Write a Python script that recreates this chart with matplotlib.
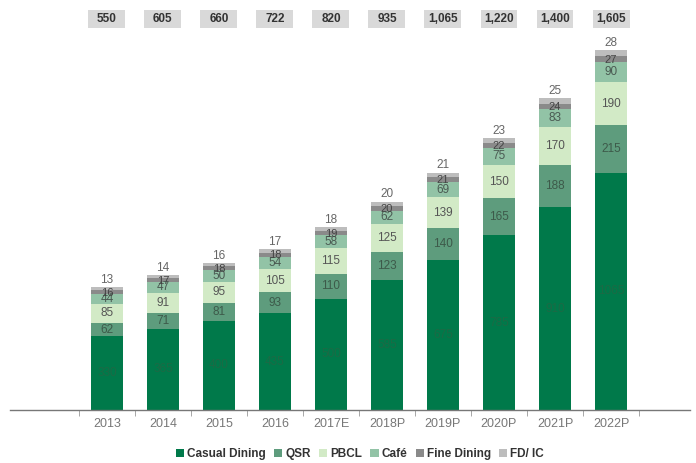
import numpy as np
import matplotlib.pyplot as plt
from matplotlib.patches import Rectangle
from matplotlib.transforms import blended_transform_factory

plt.rcParams['font.family'] = ['Liberation Sans', 'DejaVu Sans']

years = ['2013', '2014', '2015', '2016', '2017E', '2018P', '2019P', '2020P', '2021P', '2022P']
totals = ['550', '605', '660', '722', '820', '935', '1,065', '1,220', '1,400', '1,605']

casual_dining = [330, 365, 400, 435, 500, 585, 675, 785, 910, 1065]
qsr = [62, 71, 81, 93, 110, 123, 140, 165, 188, 215]
pbcl = [85, 91, 95, 105, 115, 125, 139, 150, 170, 190]
cafe = [44, 47, 50, 54, 58, 62, 69, 75, 83, 90]
fine_dining = [16, 17, 18, 18, 19, 20, 21, 22, 24, 27]
fd_ic = [13, 14, 16, 17, 18, 20, 21, 23, 25, 28]

series = [
    ('Casual Dining', casual_dining, '#00794a', '#1c6a45'),
    ('QSR', qsr, '#5e9c7d', '#3d5a4a'),
    ('PBCL', pbcl, '#d2eac6', '#555555'),
    ('Caf\u00e9', cafe, '#92c3a6', '#4a5a52'),
    ('Fine Dining', fine_dining, '#8a8a8a', '#444444'),
    ('FD/ IC', fd_ic, '#bdbdbd', '#666666'),
]

fig = plt.figure(figsize=(6.96, 4.63), dpi=100)
ax = fig.add_axes([10 / 696, 53 / 463, 680 / 696, 370 / 463])

x = np.arange(len(years))
width = 0.56
bottom = np.zeros(len(years))
for name, vals, color, tcolor in series:
    vals = np.array(vals, dtype=float)
    ax.bar(x, vals, width, bottom=bottom, color=color, label=name, zorder=2)
    for xi, b, v in zip(x, bottom, vals):
        if name == 'FD/ IC':
            ax.text(xi, b + v + 6, f'{int(v)}', ha='center', va='bottom',
                    fontsize=8.5, color=tcolor)
        elif name == 'Fine Dining':
            ax.text(xi, b + v / 2 - 2, f'{int(v)}', ha='center', va='center',
                    fontsize=8, color=tcolor)
        else:
            ax.text(xi, b + v / 2, f'{int(v)}', ha='center', va='center',
                    fontsize=8.5, color=tcolor)
    bottom += vals

ax.set_xlim(-1.73, 10.41)
ax.set_ylim(0, 1660)

# grey total boxes along the top
trans = blended_transform_factory(ax.transData, fig.transFigure)
for xi, t in zip(x, totals):
    ax.add_patch(Rectangle((xi - 0.33, 1 - 28 / 463), 0.66, 18 / 463,
                           transform=trans, facecolor='#d9d9d9', edgecolor='none',
                           clip_on=False))
    ax.text(xi, 1 - 19 / 463, t, transform=trans, ha='center', va='center',
            fontsize=8.5, fontweight='bold', color='#333333')

for s in ['top', 'right', 'left']:
    ax.spines[s].set_visible(False)
ax.spines['bottom'].set_color('#777777')
ax.spines['bottom'].set_linewidth(1.0)
ax.set_yticks([])
ax.set_xticks(x)
ax.set_xticklabels(years, fontsize=9, color='#777777')
ax.tick_params(axis='x', length=0, pad=6)
ax.set_xticks(np.arange(-0.5, len(years) + 0.5, 1), minor=True)
ax.tick_params(axis='x', which='minor', length=4, color='#999999')

handles, labels = ax.get_legend_handles_labels()
leg = fig.legend(handles, labels, loc='center', bbox_to_anchor=(360 / 696, 9 / 463),
                 ncol=6, frameon=False, handlelength=0.7, handleheight=0.7,
                 handletextpad=0.25, columnspacing=0.7,
                 prop={'weight': 'bold', 'size': 8.5})
for t in leg.get_texts():
    t.set_color('#333333')

fig.savefig('out.png', dpi=100)
